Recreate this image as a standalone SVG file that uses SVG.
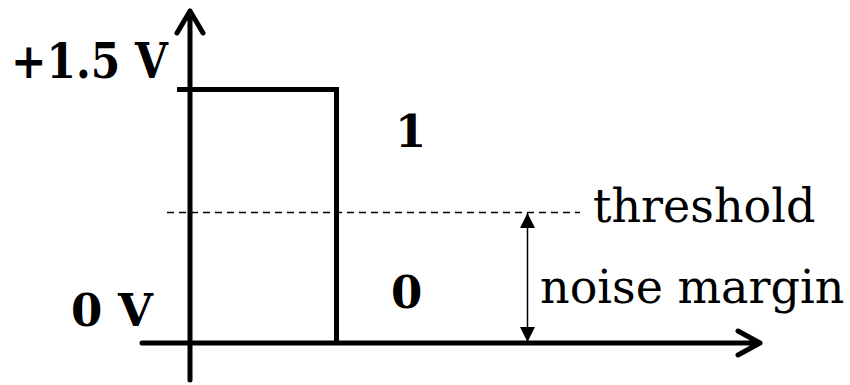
<svg xmlns="http://www.w3.org/2000/svg" width="850" height="385" viewBox="0 0 850 385">
<style>
.b{font-family:"DejaVu Serif","Liberation Serif",serif;font-weight:bold;font-size:45px;fill:#000}
.r{font-family:"DejaVu Serif","Liberation Serif",serif;font-size:46px;fill:#000}
.ax{stroke:#000;stroke-width:5;fill:none;stroke-linecap:round;stroke-linejoin:round}
.sig{stroke:#000;stroke-width:5;fill:none;stroke-linecap:butt;stroke-linejoin:miter}
</style>
<defs>
<marker id="ah" viewBox="0 0 10 10" refX="10" refY="5" markerWidth="15" markerHeight="15" markerUnits="userSpaceOnUse" orient="auto-start-reverse">
<path d="M0,0 L10,5 L0,10 z" fill="#000"/>
</marker>
</defs>
<rect width="850" height="385" fill="#fff"/>
<g id="connectors">
<path id="yaxis" class="ax" d="M190,380 V11 M177,33 L190,11 L203,33"/>
<path id="xaxis" class="ax" d="M142,343 H760 M738,331 L760,343 L738,355"/>
<path id="pulse" class="sig" d="M177,89.5 H336.5 V343"/>
<line id="threshold-line" x1="167" y1="212.5" x2="580" y2="212.5" stroke="#000" stroke-width="1.3" stroke-dasharray="7,5"/>
<line id="noise-margin-arrow" x1="527.5" y1="213" x2="527.5" y2="342" stroke="#000" stroke-width="1.5" marker-start="url(#ah)" marker-end="url(#ah)"/>
</g>
<g id="label-high"><text class="b" x="11" y="78" style="font-size:49px" textLength="157" lengthAdjust="spacingAndGlyphs">+1.5 V</text></g>
<g id="label-low"><text class="b" x="71" y="326">0 V</text></g>
<g id="label-1"><text class="b" x="395" y="147">1</text></g>
<g id="label-0"><text class="b" x="391" y="308">0</text></g>
<g id="label-threshold"><text class="r" x="593" y="222">threshold</text></g>
<g id="label-noise"><text class="r" x="540" y="303">noise margin</text></g>
</svg>
